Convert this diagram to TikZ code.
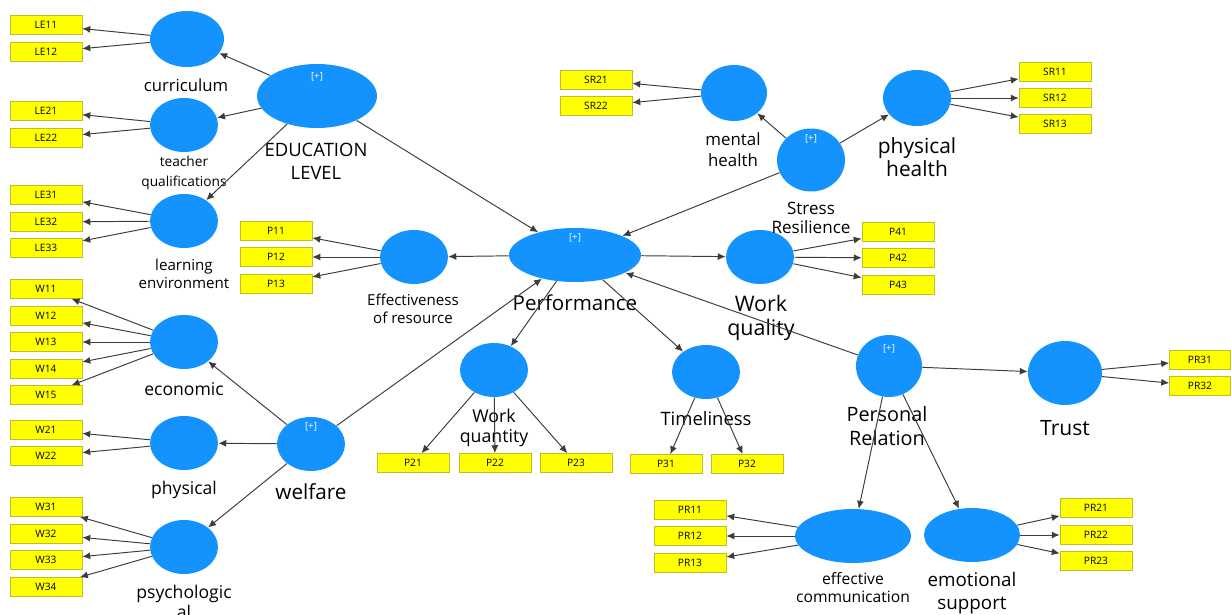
\documentclass[tikz,border=0pt]{standalone}
\usepackage{fontspec}
\setmainfont{Open Sans}
\usepackage{xcolor}
\usetikzlibrary{shapes.geometric, arrows.meta, positioning}
\definecolor{lvblue}{RGB}{20,147,255}
\definecolor{indyellow}{RGB}{255,255,0}
\definecolor{indline}{RGB}{190,190,40}
\definecolor{pathgray}{RGB}{60,60,60}
\newcommand{\fs}[2]{\fontsize{#1}{#2}\selectfont}

\begin{document}
\begin{tikzpicture}[x=0.02cm, y=-0.02cm,
  lv/.style={ellipse, fill=lvblue, inner sep=0pt, minimum width=1.36cm, minimum height=1.08cm},
  ind/.style={draw=indline, fill=indyellow, inner sep=0pt, minimum width=1.44cm, minimum height=0.38cm, font=\fs{5.8}{7}},
  lab/.style={align=center, inner sep=0pt},
  plus/.style={text=white, inner sep=0pt, font=\fs{5.5}{6}},
  path/.style={draw=pathgray, line width=0.55pt, -{Latex[length=4.5pt,width=4pt]}}]
\useasboundingbox (0,0) rectangle (1231,615);

% Education level
\node[lv, minimum width=2.4cm, minimum height=1.28cm] (edu) at (317,96) {};
\node[plus] (edu-p) at (317,77) {[+]};
\node[lab, font=\fs{10.5}{13}] (edu-l) at (316,161) {EDUCATION\\LEVEL};
\node[lv, minimum width=1.48cm, minimum height=1.12cm] (curr) at (187,39) {};
\node[lab, font=\fs{9.5}{11}] (curr-l) at (186,85) {curriculum};
\node[lv] (teach) at (184,125) {};
\node[lab, font=\fs{7.8}{11.8}] (teach-l) at (184,173) {teacher\\qualifications};
\node[lv] (learn) at (184,221) {};
\node[lab, font=\fs{8.6}{10.2}] (learn-l) at (184,274) {learning\\environment};
\foreach \n/\y in {LE11/25, LE12/52, LE21/111, LE22/138, LE31/195, LE32/222, LE33/248}
  \node[ind] (\n) at (46,\y) {\n};
\foreach \a/\b in {edu/curr, edu/teach, edu/learn, curr/LE11, curr/LE12, teach/LE21, teach/LE22, learn/LE31, learn/LE32, learn/LE33}
  \draw[path] (\a) -- (\b);

% Welfare
\node[lv] (welf) at (311,444) {};
\node[plus] (welf-p) at (311,427) {[+]};
\node[lab, font=\fs{11.8}{13}] (welf-l) at (311,492) {welfare};
\node[lv] (econ) at (184,342) {};
\node[lab, font=\fs{10}{12}] (econ-l) at (184,389) {economic};
\node[lv] (phys) at (184,443) {};
\node[lab, font=\fs{10}{12}] (phys-l) at (184,490) {physical};
\node[lv] (psy) at (184,547) {};
\node[lab, font=\fs{10}{11.3}] (psy-l) at (184,602) {psychologic\\al};
\foreach \n/\y in {W11/289, W12/316, W13/342, W14/369, W15/395, W21/430, W22/456, W31/507, W32/534, W33/560, W34/587}
  \node[ind] (\n) at (46,\y) {\n};
\foreach \a/\b in {welf/econ, welf/phys, welf/psy, econ/W11, econ/W12, econ/W13, econ/W14, econ/W15, phys/W21, phys/W22, psy/W31, psy/W32, psy/W33, psy/W34}
  \draw[path] (\a) -- (\b);

% Performance
\node[lv, minimum width=2.64cm, minimum height=1.08cm] (perf) at (575,255) {};
\node[plus] (perf-p) at (575,238) {[+]};
\node[lab, font=\fs{11.7}{13}] (perf-l) at (575,303) {Performance};
\node[lv] (eff) at (414,257) {};
\node[lab, font=\fs{8.6}{10.2}] (eff-l) at (413,309) {Effectiveness\\of resource};
\node[lv] (wqty) at (494,370) {};
\node[lab, font=\fs{10.1}{11.3}] (wqty-l) at (494,428) {Work\\quantity};
\node[lv] (time) at (706,372) {};
\node[lab, font=\fs{10.5}{12}] (time-l) at (706,419) {Timeliness};
\node[lv] (wqual) at (760,257) {};
\node[lab, font=\fs{12.2}{14}] (wqual-l) at (761,318) {Work\\quality};
\foreach \n/\y in {P11/231, P12/257, P13/284}
  \node[ind] (\n) at (276,\y) {\n};
\foreach \n/\x in {P21/413, P22/495, P23/576}
  \node[ind] (\n) at (\x,463) {\n};
\foreach \n/\x in {P31/666, P32/747}
  \node[ind] (\n) at (\x,464) {\n};
\foreach \n/\y in {P41/232, P42/258, P43/285}
  \node[ind] (\n) at (898,\y) {\n};
\foreach \a/\b in {edu/perf, welf/perf, perf/eff, perf/wqty, perf/time, perf/wqual, eff/P11, eff/P12, eff/P13, wqty/P21, wqty/P22, wqty/P23, time/P31, time/P32, wqual/P41, wqual/P42, wqual/P43}
  \draw[path] (\a) -- (\b);

% Stress resilience
\node[lv, minimum width=1.36cm, minimum height=1.26cm] (stress) at (811,160) {};
\node[plus] (stress-p) at (811,139) {[+]};
\node[lab, font=\fs{9.7}{10.8}] (stress-l) at (811,218) {Stress\\Resilience};
\node[lv, minimum width=1.32cm, minimum height=1.12cm] (mental) at (734,93) {};
\node[lab, font=\fs{9.6}{11.9}] (mental-l) at (733,150) {mental\\health};
\node[lv, minimum width=1.36cm, minimum height=1.12cm] (phealth) at (917,98) {};
\node[lab, font=\fs{11.9}{13}] (phealth-l) at (917,157) {physical\\health};
\foreach \n/\y in {SR21/80, SR22/106}
  \node[ind] (\n) at (596,\y) {\n};
\foreach \n/\y in {SR11/72, SR12/98, SR13/124}
  \node[ind] (\n) at (1055,\y) {\n};
\foreach \a/\b in {stress/perf, stress/mental, stress/phealth, mental/SR21, mental/SR22, phealth/SR11, phealth/SR12, phealth/SR13}
  \draw[path] (\a) -- (\b);

% Personal relation
\node[lv, minimum width=1.32cm, minimum height=1.24cm] (pers) at (889,366) {};
\node[plus] (pers-p) at (889,349) {[+]};
\node[lab, font=\fs{11.3}{13.6}] (pers-l) at (887,426) {Personal\\Relation};
\node[lv, minimum width=1.48cm, minimum height=1.28cm] (trust) at (1065,373) {};
\node[lab, font=\fs{12}{13}] (trust-l) at (1065,428) {Trust};
\node[lv, minimum width=2.32cm, minimum height=1.08cm] (comm) at (853,536) {};
\node[lab, font=\fs{8.9}{10.2}] (comm-l) at (853,588) {effective\\communication};
\node[lv, minimum width=1.92cm, minimum height=1.08cm] (emo) at (972,535) {};
\node[lab, font=\fs{10.7}{13}] (emo-l) at (972,593) {emotional\\support};
\foreach \n/\y in {PR11/510, PR12/536, PR13/563}
  \node[ind] (\n) at (690,\y) {\n};
\foreach \n/\y in {PR21/508, PR22/535, PR23/561}
  \node[ind] (\n) at (1096,\y) {\n};
\foreach \n/\y in {PR31/360, PR32/386}
  \node[ind, minimum width=1.22cm] (\n) at (1200,\y) {\n};
\foreach \a/\b in {pers/perf, pers/trust, pers/comm, pers/emo, comm/PR11, comm/PR12, comm/PR13, emo/PR21, emo/PR22, emo/PR23, trust/PR31, trust/PR32}
  \draw[path] (\a) -- (\b);
\end{tikzpicture}
\end{document}
